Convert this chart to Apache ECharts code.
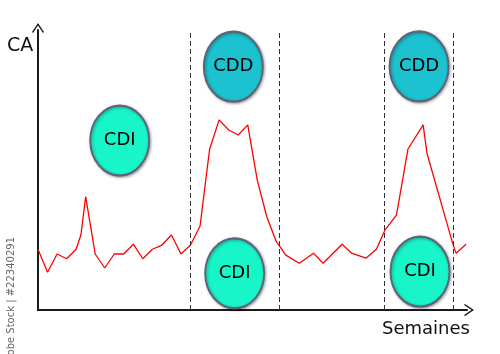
<!DOCTYPE html>
<html>
<head>
<meta charset="utf-8">
<script src="https://cdn.jsdelivr.net/npm/echarts@6/dist/echarts.min.js"></script>
<style>
  html, body { margin: 0; padding: 0; background: #fff; }
  #chart { width: 500px; height: 354px; }
</style>
</head>
<body>
<div id="chart"></div>
<script>
// semaines (x) et chiffre d'affaires (y), unités arbitraires
const weeks = [0, 1, 2, 3, 4, 4.5, 5, 6, 7, 8, 9, 10, 11, 12, 13, 14, 15, 16, 17, 18, 19, 20, 21, 22, 23, 24, 25, 26,
  27.4, 28.9, 29.9, 31.9, 32.9, 34.4, 35.5, 36.4, 37.6, 38.8, 40.4, 40.8, 42.8, 43.5, 43.85, 44.9];
const ca = [21.7, 13.5, 20, 18.3, 21.7, 26.8, 40.5, 20, 15, 20, 20, 23.5, 18.3, 21.7, 23.2, 26.8, 20, 23.2, 30, 57.4,
  67.9, 64.3, 62.5, 66.1, 46.4, 33.3, 24.4, 19.6, 16.7, 20.3, 16.7, 23.5, 20.3, 18.5, 21.7, 28.6, 33.9, 57.4, 66.1, 56,
  32.1, 23.8, 20.3, 23.5];

// limites des périodes (lignes pointillées)
const periodBounds = [15.94, 25.28, 36.3, 43.53];

// bulles de contrat
const bubbleNames = ['CDI', 'CDD', 'CDI', 'CDD', 'CDI'];
const bubbleX = [8.57, 20.49, 20.63, 39.97, 40.07];
const bubbleY = [60.5, 86.9, 13.1, 87, 13.7];

const colors = { CDI: '#18f5c8', CDD: '#1cc2cf' };

const chart = echarts.init(document.getElementById('chart'));

const arrow = 'path://M0,0 L6,9 L5,10 L0,2.5 L-5,10 L-6,9 Z';

chart.setOption({
  animation: false,
  grid: { left: 38, right: 33, top: 30, bottom: 44 },
  xAxis: {
    type: 'value', min: 0, max: 45,
    axisLine: { show: true, symbol: ['none', arrow], symbolSize: [12, 10], symbolOffset: [0, 2],
      lineStyle: { color: '#1a1a1a', width: 2 } },
    axisTick: { show: false }, axisLabel: { show: false }, splitLine: { show: false }
  },
  yAxis: {
    type: 'value', min: 0, max: 100,
    axisLine: { show: true, symbol: ['none', arrow], symbolSize: [12, 10], symbolOffset: [0, 2],
      lineStyle: { color: '#1a1a1a', width: 2 } },
    axisTick: { show: false }, axisLabel: { show: false }, splitLine: { show: false }
  },
  graphic: [
    { type: 'text', left: 7, top: 37, style: { text: 'CA', font: '19px "DejaVu Sans"', fill: '#111' } },
    { type: 'text', left: 382, top: 320, style: { text: 'Semaines', font: '18px "DejaVu Sans"', fill: '#111' } },
    { type: 'text', x: 11, y: 237, rotation: Math.PI / 2,
      style: { text: 'Adobe Stock | #22340291', font: '10px "DejaVu Sans"', fill: '#666', align: 'right', verticalAlign: 'middle' } }
  ],
  series: [
    {
      type: 'line',
      data: weeks.map((w, i) => [w, ca[i]]),
      symbol: 'none',
      lineStyle: { color: '#ff0000', width: 1.3 },
      z: 2,
      markLine: {
        silent: true,
        symbol: 'none',
        label: { show: false },
        lineStyle: { color: '#333', type: [5, 3], width: 1 },
        data: periodBounds.map(x => ({ xAxis: x }))
      }
    },
    {
      type: 'scatter',
      data: bubbleNames.map((n, i) => ({
        name: n,
        value: [bubbleX[i], bubbleY[i]],
        itemStyle: { color: colors[n] }
      })),
      symbol: 'circle',
      symbolSize: [59, 70],
      itemStyle: { opacity: 1, borderColor: '#5b6478', borderWidth: 2, shadowColor: 'rgba(0,0,0,0.35)', shadowBlur: 3, shadowOffsetX: 1, shadowOffsetY: 1 },
      label: { show: true, position: 'inside', formatter: p => p.name, fontFamily: 'DejaVu Sans', fontSize: 18, color: '#000', opacity: 1 },
      z: 3
    }
  ]
});
</script>
</body>
</html>
